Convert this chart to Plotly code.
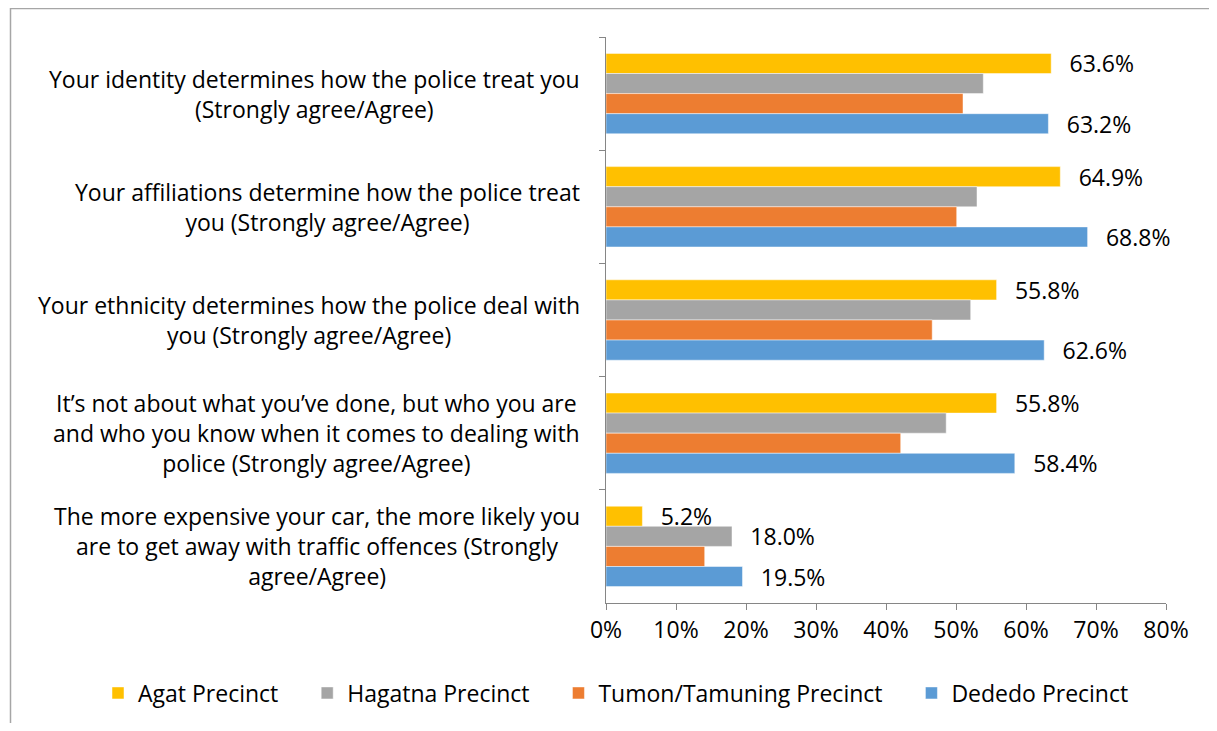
import plotly.graph_objects as go

categories = [
    "Your identity determines how the police treat you<br>(Strongly agree/Agree)",
    "Your affiliations determine how the police treat<br>you (Strongly agree/Agree)",
    "Your ethnicity determines how the police deal with<br>you (Strongly agree/Agree)",
    "It\u2019s not about what you\u2019ve done, but who you are<br>and who you know when it comes to dealing with<br>police (Strongly agree/Agree)",
    "The more expensive your car, the more likely you<br>are to get away with traffic offences (Strongly<br>agree/Agree)",
]
series_names = ["Agat Precinct", "Hagatna Precinct", "Tumon/Tamuning Precinct", "Dededo Precinct"]
agat = [63.6, 64.9, 55.8, 55.8, 5.2]
hagatna = [53.9, 53.0, 52.1, 48.6, 18.0]
tumon = [51.0, 50.1, 46.6, 42.1, 14.1]
dededo = [63.2, 68.8, 62.6, 58.4, 19.5]
# which data labels are shown in the original
show_labels = [
    [True, True, True, True, True],
    [False, False, False, False, True],
    [False, False, False, False, False],
    [True, True, True, True, True],
]
colors = ["#FFC000", "#A5A5A5", "#ED7D31", "#5B9BD5"]
x_ticks = [0, 10, 20, 30, 40, 50, 60, 70, 80]
x_tick_labels = ["0%", "10%", "20%", "30%", "40%", "50%", "60%", "70%", "80%"]

FONT = "Open Sans"
FS = 23
PAD = "\u00a0" * 4  # invisible spacing between legend entries

fig = go.Figure()
for name, vals, col, show in zip(series_names, [agat, hagatna, tumon, dededo], colors, show_labels):
    texts = [("\u2002\u2009" + f"{v:.1f}%") if s else "" for v, s in zip(vals, show)]
    fig.add_trace(go.Bar(
        y=categories, x=vals, name=name + PAD, orientation="h",
        marker=dict(color=col, line=dict(color="rgba(255,255,255,0.6)", width=0.8)),
        text=texts, textposition="outside", cliponaxis=False,
        constraintext="none",
        textfont=dict(family=FONT, size=FS, color="#000000"),
        hovertemplate=name + ": %{x:.1f}%<extra></extra>",
    ))

for c in categories:
    fig.add_annotation(
        x=0, xref="paper", xanchor="right", xshift=-24,
        y=c, yref="y", yanchor="middle",
        text=c, showarrow=False, align="center",
        font=dict(family=FONT, size=FS, color="#000000"),
    )

# page has an 8px body margin; keep figure inside the window (no scrollbars)
OFF = 8
W, H = 1217 - 2 * OFF, 731 - 2 * OFF
L = 606 - OFF
T = 37 - OFF
R = W - (1166 - OFF)
B = H - (603 - OFF)
pw, ph = W - L - R, H - T - B

def px_to_paper_x(px):
    return (px - OFF - L) / pw

def px_to_paper_y(py):
    return (H - B - (py - OFF)) / ph

fig.add_shape(type="line", xref="paper", yref="paper",
              x0=px_to_paper_x(10), x1=px_to_paper_x(1240),
              y0=px_to_paper_y(8.5), y1=px_to_paper_y(8.5),
              line=dict(color="#A6A6A6", width=1.5))
fig.add_shape(type="line", xref="paper", yref="paper",
              x0=px_to_paper_x(10.5), x1=px_to_paper_x(10.5),
              y0=px_to_paper_y(8), y1=px_to_paper_y(760),
              line=dict(color="#A6A6A6", width=1.5))

fig.update_layout(
    width=W, height=H,
    margin=dict(l=L, r=R, t=T, b=B, autoexpand=False),
    barmode="group", bargap=0.29, bargroupgap=0,
    plot_bgcolor="white", paper_bgcolor="white",
    font=dict(family=FONT, size=FS, color="#000000"),
    showlegend=True,
    legend=dict(orientation="h", x=px_to_paper_x(98), xanchor="left",
                y=px_to_paper_y(693), yanchor="middle",
                font=dict(family=FONT, size=FS, color="#000000"),
                itemwidth=30, tracegroupgap=0, borderwidth=0),
    xaxis=dict(range=[0, 80], tickvals=x_ticks, ticktext=x_tick_labels,
               showgrid=False, zeroline=False, showline=True,
               linecolor="#868686", linewidth=1.3, ticks="outside",
               ticklen=6, tickcolor="#868686", tickwidth=1.3,
               tickfont=dict(family=FONT, size=FS, color="#000000"),
               fixedrange=True),
    yaxis=dict(categoryorder="array", categoryarray=categories,
               autorange="reversed", showticklabels=False,
               showgrid=False, zeroline=False, showline=True,
               linecolor="#868686", linewidth=1.3, ticks="outside",
               tickson="boundaries", ticklen=6, tickcolor="#868686",
               tickwidth=1.3, fixedrange=True),
)

fig.write_html("out.html")
